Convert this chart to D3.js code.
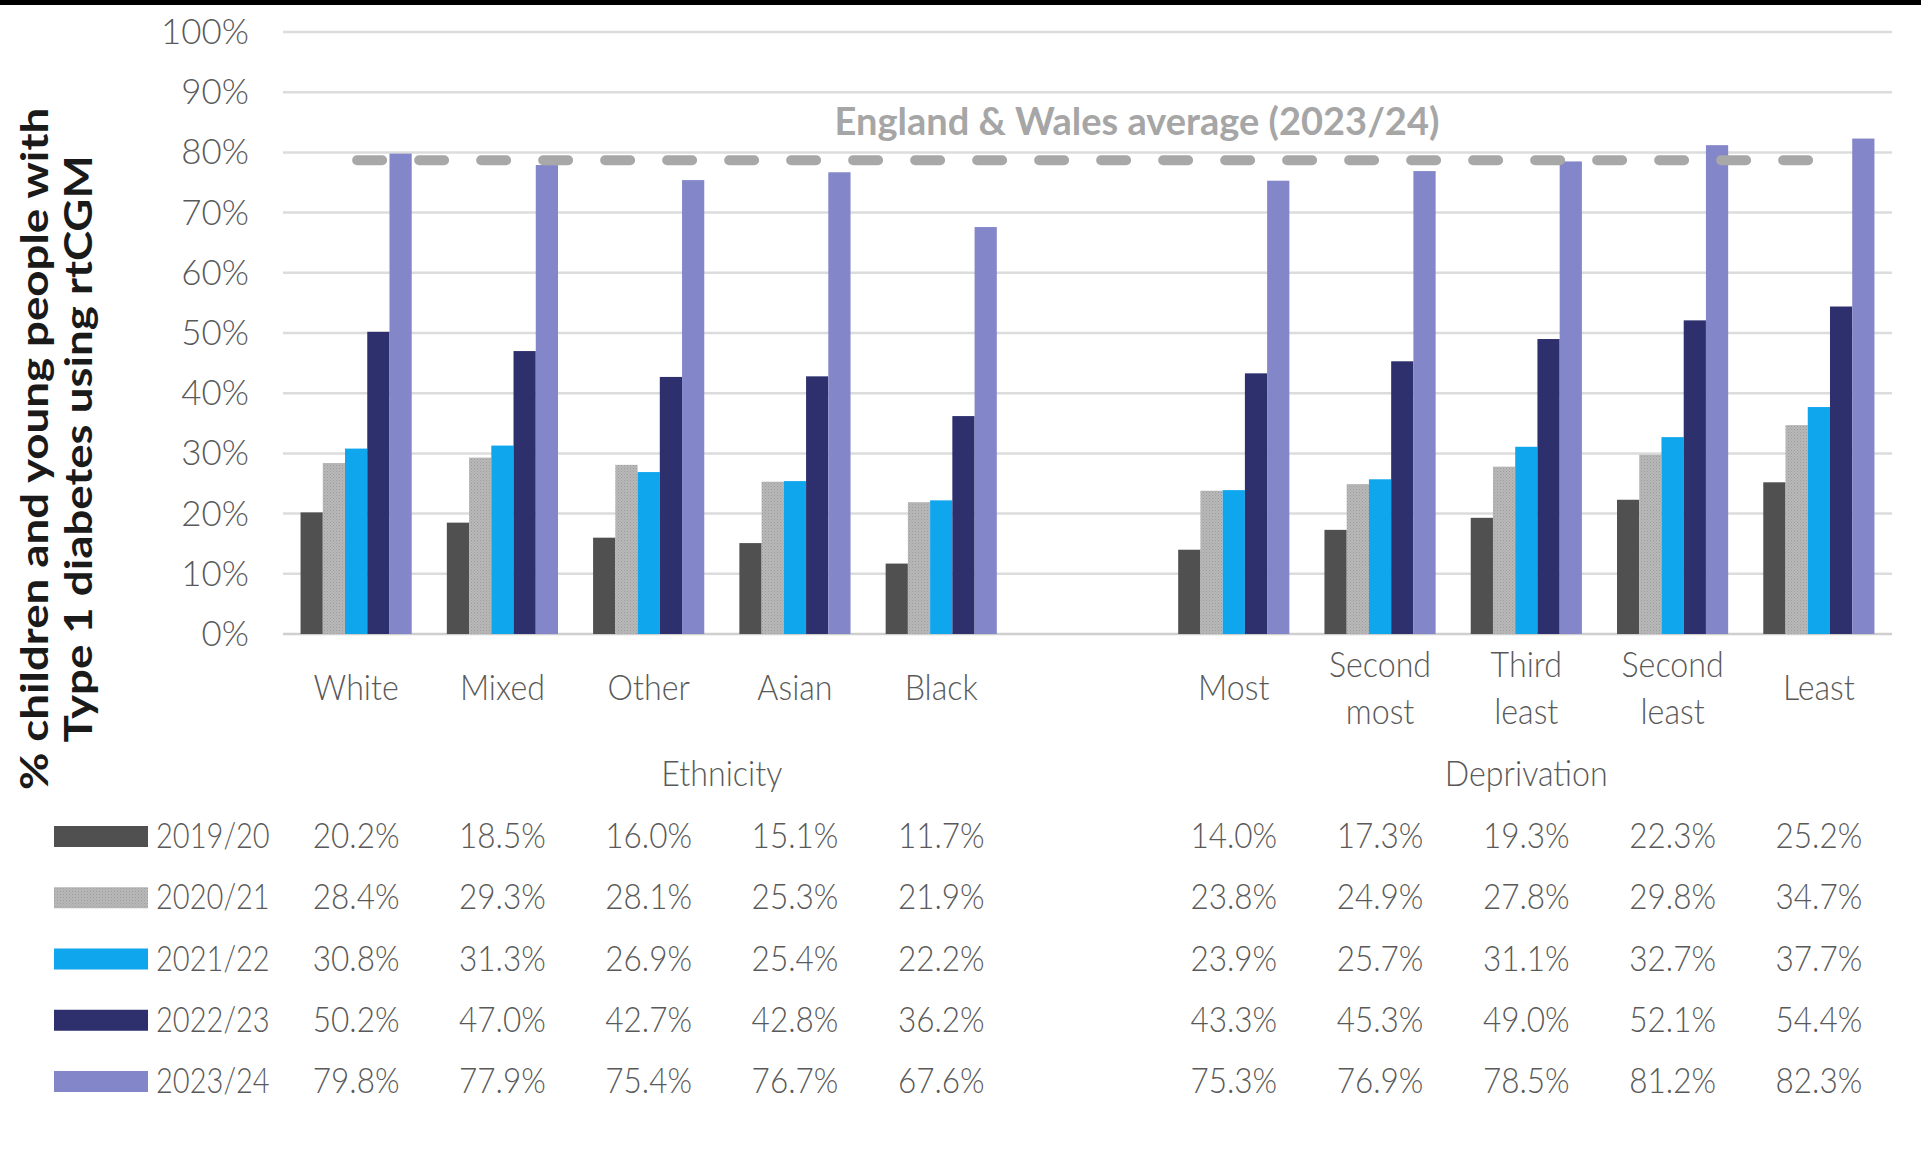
<!DOCTYPE html>
<html>
<head>
<meta charset="utf-8">
<script src="https://cdn.jsdelivr.net/npm/d3@7"></script>
<style>
body { margin: 0; background: #fff; }
text { font-family: Lato, "Open Sans", sans-serif; }
</style>
</head>
<body>
<script>
// categories
var ethnicity = ["White", "Mixed", "Other", "Asian", "Black"];
var deprivation = ["Most", "Second most", "Third least", "Second least", "Least"];
var groupNames = ["Ethnicity", "Deprivation"];
var years = ["2019/20", "2020/21", "2021/22", "2022/23", "2023/24"];

// values, ethnicity first then deprivation (%)
var v2019 = [20.2, 18.5, 16.0, 15.1, 11.7, 14.0, 17.3, 19.3, 22.3, 25.2];
var v2020 = [28.4, 29.3, 28.1, 25.3, 21.9, 23.8, 24.9, 27.8, 29.8, 34.7];
var v2021 = [30.8, 31.3, 26.9, 25.4, 22.2, 23.9, 25.7, 31.1, 32.7, 37.7];
var v2022 = [50.2, 47.0, 42.7, 42.8, 36.2, 43.3, 45.3, 49.0, 52.1, 54.4];
var v2023 = [79.8, 77.9, 75.4, 76.7, 67.6, 75.3, 76.9, 78.5, 81.2, 82.3];
var average = 78.7;
var averageLabel = "England & Wales average (2023/24)";
var yTicks = [0, 10, 20, 30, 40, 50, 60, 70, 80, 90, 100];

var colors = ["#505050", "url(#hatch)", "#10a6ee", "#2e306e", "#8387c9"];
var textGrey = "#595959";
var SX = 0.92;

var width = 1921, height = 1167;
var svg = d3.select("body").append("svg").attr("width", width).attr("height", height);

var defs = svg.append("defs");
var pat = defs.append("pattern").attr("id", "hatch").attr("patternUnits", "userSpaceOnUse")
    .attr("width", 3).attr("height", 3);
pat.append("rect").attr("width", 3).attr("height", 3).attr("fill", "#b8b8b8");
pat.append("rect").attr("width", 1).attr("height", 1).attr("fill", "#9c9c9c");
pat.append("rect").attr("x", 1.5).attr("y", 1.5).attr("width", 1).attr("height", 1).attr("fill", "#a4a4a4");

svg.append("rect").attr("width", width).attr("height", 5).attr("fill", "#000");

var cats = ethnicity.concat(deprivation);
var slots = ethnicity.concat([""], deprivation);
var series = [v2019, v2020, v2021, v2022, v2023];
var slotOf = function(i) { return i < ethnicity.length ? i : i + 1; };

var x = d3.scaleBand().domain(d3.range(slots.length)).range([283, 1892])
    .paddingInner(0.24).paddingOuter(0.12);
var xIn = d3.scaleBand().domain(years).range([0, x.bandwidth()]);
var y = d3.scaleLinear().domain([0, 100]).range([634, 32]);
var cx = function(i) { return x(slotOf(i)) + x.bandwidth() / 2; };

// gridlines
svg.append("g").selectAll("line").data(yTicks).enter().append("line")
    .attr("x1", 283).attr("x2", 1892)
    .attr("y1", function(d) { return y(d); }).attr("y2", function(d) { return y(d); })
    .attr("stroke", function(d) { return d == 0 ? "#cfcfcf" : "#dcdcdc"; })
    .attr("stroke-width", 2.5);

// y tick labels
svg.append("g").selectAll("text").data(yTicks).enter().append("text")
    .attr("transform", function(d) { return "translate(249," + (y(d) + 12) + ") scale(0.97,1)"; })
    .attr("text-anchor", "end").attr("font-size", 36).attr("font-weight", 300)
    .attr("fill", textGrey)
    .text(function(d) { return d + "%"; });

// bars
var bars = svg.append("g");
series.forEach(function(vals, s) {
    bars.selectAll(".s" + s).data(vals).enter().append("rect")
        .attr("class", "s" + s)
        .attr("x", function(d, i) { return x(slotOf(i)) + xIn(years[s]); })
        .attr("width", xIn.bandwidth())
        .attr("y", function(d) { return y(d); })
        .attr("height", function(d) { return y(0) - y(d); })
        .attr("fill", colors[s]);
});

// average line
svg.append("line")
    .attr("x1", cx(0) + 1).attr("x2", cx(cats.length - 1))
    .attr("y1", y(average)).attr("y2", y(average))
    .attr("stroke", "#a8a8a8").attr("stroke-width", 10)
    .attr("stroke-linecap", "round").attr("stroke-dasharray", "25 37");

svg.append("text")
    .attr("transform", "translate(1137,135)")
    .attr("text-anchor", "middle").attr("font-family", "'Open Sans', sans-serif")
    .attr("font-weight", 700).attr("font-size", 38).attr("fill", "#a6a6a6")
    .text(averageLabel);

// category labels
cats.forEach(function(c, i) {
    var words = c.split(" ");
    var y0 = words.length > 1 ? 677 : 700;
    words.forEach(function(w, k) {
        svg.append("text")
            .attr("transform", "translate(" + cx(i) + "," + (y0 + k * 47) + ") scale(" + SX + ",1)")
            .attr("text-anchor", "middle").attr("font-size", 35).attr("font-weight", 300)
            .attr("fill", textGrey).text(w);
    });
});

// group labels
var groupCenters = [(x(0) + x(ethnicity.length)) / 2 + x.bandwidth() / 2,
    (x(ethnicity.length + 1) + x(slots.length - 1)) / 2 + x.bandwidth() / 2];
groupNames.forEach(function(g, i) {
    svg.append("text")
        .attr("transform", "translate(" + groupCenters[i] + ",786) scale(" + SX + ",1)")
        .attr("text-anchor", "middle").attr("font-size", 35).attr("font-weight", 300)
        .attr("fill", textGrey).text(g);
});

// data table with legend keys
var rowY = d3.scaleLinear().domain([0, 4]).range([848, 1093]);
var fmt = d3.format(".1f");
series.forEach(function(vals, s) {
    var by = rowY(s);
    svg.append("rect").attr("x", 54).attr("y", by - 22).attr("width", 94).attr("height", 21)
        .attr("fill", colors[s]);
    svg.append("text")
        .attr("transform", "translate(156," + by + ") scale(0.83,1)")
        .attr("font-size", 35).attr("font-weight", 300).attr("fill", textGrey)
        .text(years[s]);
    vals.forEach(function(v, i) {
        svg.append("text")
            .attr("transform", "translate(" + cx(i) + "," + by + ") scale(0.9,1)")
            .attr("text-anchor", "middle").attr("font-size", 35).attr("font-weight", 300)
            .attr("fill", textGrey).text(fmt(v) + "%");
    });
});

// y axis title
var titleLines = ["% children and young people with", "Type 1 diabetes using rtCGM"];
titleLines.forEach(function(t, k) {
    svg.append("text")
        .attr("transform", "translate(" + (48 + k * 44) + ",449) rotate(-90) scale(1.2,1)")
        .attr("text-anchor", "middle").attr("font-family", "'Open Sans', sans-serif")
        .attr("font-weight", 700).attr("font-size", 38).attr("fill", "#1a1a1a")
        .text(t);
});
</script>
</body>
</html>
